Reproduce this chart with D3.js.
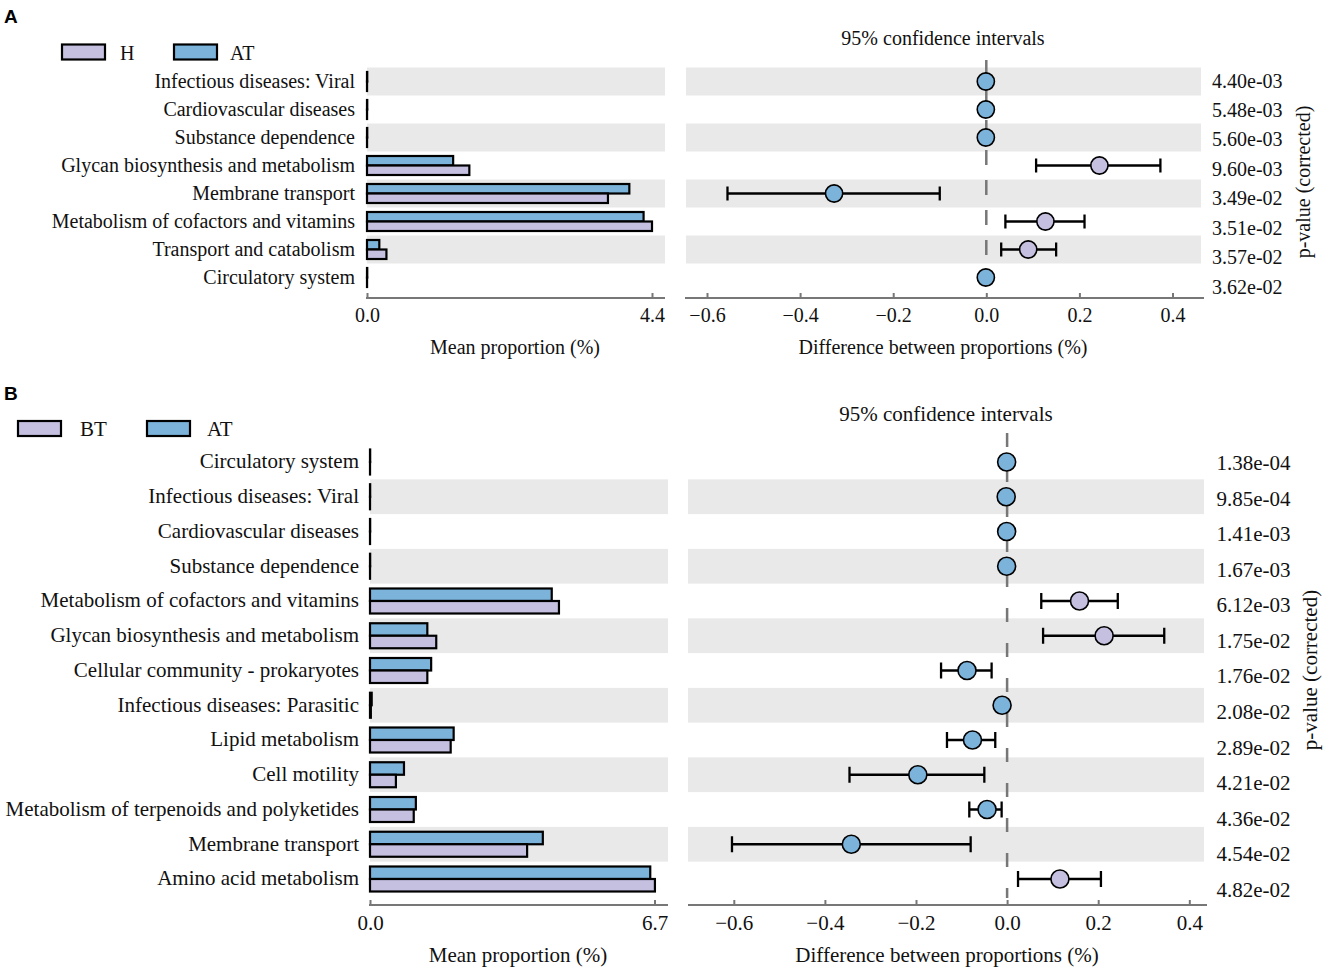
<!DOCTYPE html>
<html><head><meta charset="utf-8">
<script src="https://cdn.jsdelivr.net/npm/d3@7/dist/d3.min.js"></script>
<style>body{margin:0;background:#fff}</style>
</head><body>
<svg id="chart" width="1325" height="971"></svg>
<script>
// ---------- Panel A data ----------
const groupsA = ["H", "AT"];
const categoriesA = ["Infectious diseases: Viral", "Cardiovascular diseases", "Substance dependence",
  "Glycan biosynthesis and metabolism", "Membrane transport", "Metabolism of cofactors and vitamins",
  "Transport and catabolism", "Circulatory system"];
const meanA_H  = [0.001, 0.001, 0.001, 1.58, 3.72, 4.40, 0.30, 0.001];
const meanA_AT = [0.004, 0.004, 0.004, 1.33, 4.05, 4.27, 0.19, 0.004];
const diffA    = [-0.001, -0.001, -0.001, 0.243, -0.327, 0.127, 0.090, -0.001];
const ciLowA   = [-0.002, -0.002, -0.002, 0.107, -0.556, 0.041, 0.032, -0.002];
const ciHighA  = [0.000, 0.000, 0.000, 0.374, -0.100, 0.211, 0.150, 0.000];
const pValuesA = ["4.40e-03", "5.48e-03", "5.60e-03", "9.60e-03", "3.49e-02", "3.51e-02", "3.57e-02", "3.62e-02"];
const meanTicksA = [0, 4.4];

// ---------- Panel B data ----------
const groupsB = ["BT", "AT"];
const categoriesB = ["Circulatory system", "Infectious diseases: Viral", "Cardiovascular diseases",
  "Substance dependence", "Metabolism of cofactors and vitamins", "Glycan biosynthesis and metabolism",
  "Cellular community - prokaryotes", "Infectious diseases: Parasitic", "Lipid metabolism", "Cell motility",
  "Metabolism of terpenoids and polyketides", "Membrane transport", "Amino acid metabolism"];
const meanB_BT = [0.001, 0.001, 0.001, 0.001, 4.45, 1.56, 1.35, 0.02, 1.90, 0.61, 1.03, 3.70, 6.71];
const meanB_AT = [0.004, 0.004, 0.004, 0.004, 4.28, 1.35, 1.44, 0.04, 1.97, 0.80, 1.08, 4.07, 6.60];
const diffB    = [-0.001, -0.002, -0.001, -0.001, 0.159, 0.213, -0.088, -0.011, -0.076, -0.196, -0.044, -0.342, 0.116];
const ciLowB   = [-0.002, -0.003, -0.002, -0.002, 0.075, 0.079, -0.145, -0.016, -0.132, -0.346, -0.083, -0.604, 0.024];
const ciHighB  = [0.000, -0.001, 0.000, 0.000, 0.243, 0.345, -0.034, -0.006, -0.026, -0.050, -0.012, -0.080, 0.206];
const pValuesB = ["1.38e-04", "9.85e-04", "1.41e-03", "1.67e-03", "6.12e-03", "1.75e-02", "1.76e-02",
  "2.08e-02", "2.89e-02", "4.21e-02", "4.36e-02", "4.54e-02", "4.82e-02"];
const meanTicksB = [0, 6.7];

const diffTicks = [-0.6, -0.4, -0.2, 0.0, 0.2, 0.4];

const COL1 = "#c5bfe0";   // first group (purple)
const COL2 = "#7cb3db";   // second group (blue)
const BAND = "#e9e9e9";
const AXIS = "#777777";
const SERIF = "'Liberation Serif','Times New Roman',serif";

const svg = d3.select("#chart");

function panel(o) {
  const g = svg.append("g").style("font-family", SERIF).style("font-size", o.fs + "px");
  const n = o.cats.length;
  const rowY = d3.scaleLinear().domain([0, n - 1]).range([o.rowTop, o.rowTop + o.step * (n - 1)]);
  const pY = d3.scaleLinear().domain([0, n - 1]).range([o.pTop, o.pBottom]);
  const xm = d3.scaleLinear().domain([0, o.meanTicks[1]]).range([o.lx0, o.lx1]);
  const xd = d3.scaleLinear().domain([-0.6, 0.4]).range([o.rx0, o.rx1]);
  const idx = d3.range(n);

  // bands
  g.selectAll(".bandL").data(idx.filter(i => i % 2 === o.bandParity)).join("rect")
    .attr("x", o.lx0).attr("width", o.lEnd - o.lx0)
    .attr("y", i => rowY(i) - o.step / 2).attr("height", o.step).attr("fill", BAND);
  g.selectAll(".bandR").data(idx.filter(i => i % 2 === o.bandParity)).join("rect")
    .attr("x", o.rBandStart).attr("width", o.rBandEnd - o.rBandStart)
    .attr("y", i => rowY(i) - o.step / 2).attr("height", o.step).attr("fill", BAND);

  // category labels
  g.selectAll(".cat").data(o.cats).join("text")
    .attr("x", o.labelX).attr("y", (d, i) => rowY(i) + o.fs * 0.3)
    .attr("text-anchor", "end").attr("fill", "#111").text(d => d);

  // bars: second group on top, first group below
  g.selectAll(".bar2").data(o.mean2).join("rect")
    .attr("x", xm(0)).attr("width", d => Math.max(0, xm(d) - xm(0)))
    .attr("y", (d, i) => rowY(i) - o.barH).attr("height", o.barH)
    .attr("fill", COL2).attr("stroke", "#000").attr("stroke-width", 2.2);
  g.selectAll(".bar1").data(o.mean1).join("rect")
    .attr("x", xm(0)).attr("width", d => Math.max(0, xm(d) - xm(0)))
    .attr("y", (d, i) => rowY(i)).attr("height", o.barH)
    .attr("fill", COL1).attr("stroke", "#000").attr("stroke-width", 2.2);

  // left axis
  const axL = g.append("g").attr("transform", `translate(0,${o.axisY})`)
    .call(d3.axisBottom(xm).tickValues(o.meanTicks).tickFormat(d3.format(".1f")).tickSizeInner(-5).tickSizeOuter(0));
  axL.select(".domain").remove();
  axL.selectAll(".tick line").attr("stroke", AXIS).attr("stroke-width", 2);
  axL.selectAll(".tick text").attr("dy", null).attr("y", o.tickLabelY - o.axisY)
    .style("font-family", SERIF).style("font-size", o.fs + "px").attr("fill", "#111");
  g.append("line").attr("x1", o.lx0 - 1).attr("x2", o.lEnd).attr("y1", o.axisY).attr("y2", o.axisY)
    .attr("stroke", AXIS).attr("stroke-width", 2);

  // right axis
  const axR = g.append("g").attr("transform", `translate(0,${o.axisY})`)
    .call(d3.axisBottom(xd).tickValues(diffTicks).tickFormat(d3.format(".1f")).tickSizeInner(-5).tickSizeOuter(0));
  axR.select(".domain").remove();
  axR.selectAll(".tick line").attr("stroke", AXIS).attr("stroke-width", 2);
  axR.selectAll(".tick text").attr("dy", null).attr("y", o.tickLabelY - o.axisY)
    .style("font-family", SERIF).style("font-size", o.fs + "px").attr("fill", "#111");
  g.append("line").attr("x1", o.rAxisStart).attr("x2", o.rAxisEnd).attr("y1", o.axisY).attr("y2", o.axisY)
    .attr("stroke", AXIS).attr("stroke-width", 2);

  // zero dashed line
  g.append("line").attr("x1", xd(0)).attr("x2", xd(0)).attr("y1", o.dashY0).attr("y2", o.dashY1)
    .attr("stroke", AXIS).attr("stroke-width", 2.5).attr("stroke-dasharray", o.dash);

  // error bars
  const eb = g.selectAll(".eb").data(idx).join("g")
    .attr("stroke", "#000").attr("stroke-width", 2.3);
  eb.append("line").attr("x1", i => xd(o.lo[i])).attr("x2", i => xd(o.hi[i]))
    .attr("y1", i => rowY(i)).attr("y2", i => rowY(i));
  eb.append("line").attr("x1", i => xd(o.lo[i])).attr("x2", i => xd(o.lo[i]))
    .attr("y1", i => rowY(i) - o.capH).attr("y2", i => rowY(i) + o.capH);
  eb.append("line").attr("x1", i => xd(o.hi[i])).attr("x2", i => xd(o.hi[i]))
    .attr("y1", i => rowY(i) - o.capH).attr("y2", i => rowY(i) + o.capH);
  g.selectAll(".pt").data(o.diff).join("circle")
    .attr("cx", d => xd(d)).attr("cy", (d, i) => rowY(i)).attr("r", o.r)
    .attr("fill", d => d > 0 ? COL1 : COL2).attr("stroke", "#000").attr("stroke-width", 1.6);

  // p-values
  g.selectAll(".pv").data(o.pv).join("text")
    .attr("x", o.pX).attr("y", (d, i) => pY(i) + o.fs * 0.33).attr("fill", "#111").text(d => d);
  g.append("text").attr("transform", `translate(${o.pTitleX},${o.pTitleY}) rotate(-90)`)
    .attr("text-anchor", "middle").attr("fill", "#111").text("p-value (corrected)");

  // titles
  g.append("text").attr("x", o.ciX).attr("y", o.ciY).attr("text-anchor", "middle").attr("fill", "#111")
    .text("95% confidence intervals");
  g.append("text").attr("x", o.meanTitleX).attr("y", o.axisTitleY).attr("text-anchor", "middle").attr("fill", "#111")
    .text("Mean proportion (%)");
  g.append("text").attr("x", o.diffTitleX).attr("y", o.axisTitleY).attr("text-anchor", "middle").attr("fill", "#111")
    .text("Difference between proportions (%)");

  // legend
  const lg = g.selectAll(".lg").data(o.groups).join("g");
  lg.append("rect").attr("x", (d, i) => o.legX[i]).attr("y", o.legY).attr("width", 43).attr("height", 15)
    .attr("fill", (d, i) => i === 0 ? COL1 : COL2).attr("stroke", "#000").attr("stroke-width", 2.2);
  lg.append("text").attr("x", (d, i) => o.legTX[i]).attr("y", o.legY + 15).attr("fill", "#111").text(d => d);

  // panel letter
  svg.append("text").attr("x", 4).attr("y", o.letterY).style("font-family", "'Liberation Sans',Arial,sans-serif")
    .style("font-size", "19px").style("font-weight", "bold").text(o.letter);
}

panel({
  letter: "A", letterY: 23, cats: categoriesA, groups: groupsA, mean1: meanA_H, mean2: meanA_AT,
  diff: diffA, lo: ciLowA, hi: ciHighA, pv: pValuesA, meanTicks: meanTicksA,
  fs: 20, rowTop: 81.5, step: 28, bandParity: 0, labelX: 355, barH: 9.5, r: 8.6,
  lx0: 367, lx1: 652, lEnd: 665, rx0: 707, rx1: 1172.5, rBandStart: 686, rBandEnd: 1201,
  rAxisStart: 685, rAxisEnd: 1204, axisY: 298, tickLabelY: 322, axisTitleY: 354,
  meanTitleX: 515, diffTitleX: 943, ciX: 943, ciY: 45,
  dashY0: 60, dashY1: 292, dash: "15,15", capH: 7,
  pTop: 81, pBottom: 287, pX: 1212, pTitleX: 1310, pTitleY: 182,
  legX: [62, 174], legTX: [120, 230], legY: 44.5
});

panel({
  letter: "B", letterY: 400, cats: categoriesB, groups: groupsB, mean1: meanB_BT, mean2: meanB_AT,
  diff: diffB, lo: ciLowB, hi: ciHighB, pv: pValuesB, meanTicks: meanTicksB,
  fs: 21, rowTop: 462, step: 34.75, bandParity: 1, labelX: 359, barH: 12.5, r: 9,
  lx0: 370, lx1: 654.5, lEnd: 668, rx0: 733.8, rx1: 1189.3, rBandStart: 688, rBandEnd: 1204,
  rAxisStart: 688, rAxisEnd: 1207, axisY: 905, tickLabelY: 930, axisTitleY: 962,
  meanTitleX: 518, diffTitleX: 947, ciX: 946, ciY: 421,
  dashY0: 433, dashY1: 898, dash: "14,21", capH: 8,
  pTop: 463, pBottom: 890, pX: 1216.5, pTitleX: 1317, pTitleY: 670,
  legX: [18, 147], legTX: [80, 207], legY: 421
});
</script>
</body></html>
